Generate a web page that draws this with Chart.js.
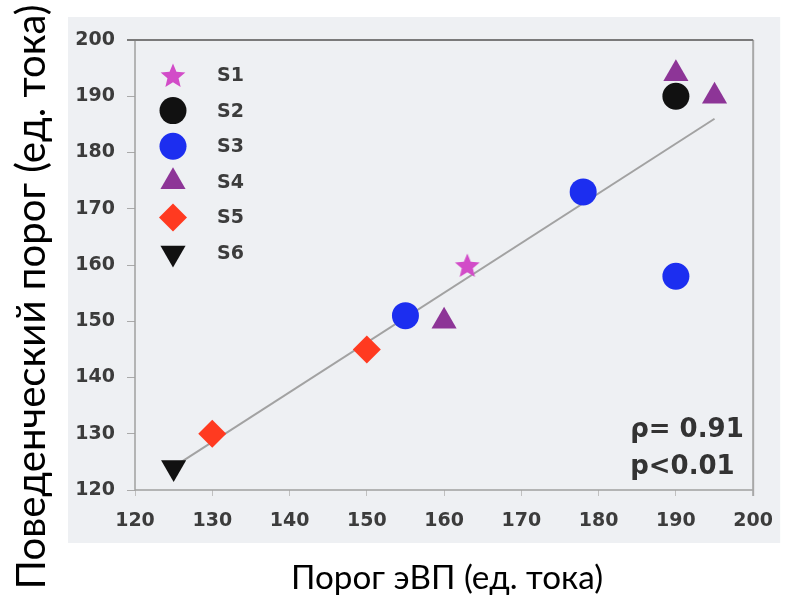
<!DOCTYPE html>
<html>
<head>
<meta charset="utf-8">
<script src="https://cdn.jsdelivr.net/npm/chart.js@4.4.1/dist/chart.umd.min.js"></script>
<style>
  html, body { margin: 0; padding: 0; background: #fff; }
</style>
</head>
<body>
<canvas id="chart" width="787" height="603"></canvas>
<script>
// series as [x, y]
const seriesNames = ["S1", "S2", "S3", "S4", "S5", "S6"];
const s1 = [[163, 160]];
const s2 = [[190, 190]];
const s3 = [[155, 151], [178, 173], [190, 158]];
const s4 = [[190, 194], [195, 190], [160, 150]];
const s5 = [[130, 130], [150, 145]];
const s6 = [[125, 124]];
const fitLine = [[126, 125], [195, 186]];

const axisMin = 120;
const axisMax = 200;
const axisStep = 10;

const statText = ["ρ= 0.91", "p<0.01"];
const xTitle = "Порог эВП (ед. тока)";
const yTitle = "Поведенческий порог (ед. тока)";

const tickFont = { family: "DejaVu Sans", weight: "bold", size: 19 };
const tickColor = "#3c3c3c";

function toPoints(arr) {
    return arr.map(p => ({ x: p[0], y: p[1] }));
}

// filled five point star, chart.js 'star' is only an asterisk
function makeStar(r, color) {
    const c = document.createElement("canvas");
    c.width = c.height = r * 2 + 2;
    const g = c.getContext("2d");
    g.fillStyle = color;
    g.beginPath();
    for (let i = 0; i < 10; i++) {
        const rr = i % 2 ? r * 0.45 : r;
        const a = -Math.PI / 2 + i * Math.PI / 5;
        g.lineTo(c.width / 2 + rr * Math.cos(a), c.height / 2 + 1.5 + rr * Math.sin(a));
    }
    g.closePath();
    g.fill();
    return c;
}

const styles = [
    { color: "#d24cc8", pointStyle: makeStar(13, "#d24cc8"), radius: 13, rotation: 0 },
    { color: "#111111", pointStyle: "circle", radius: 13.5, rotation: 0 },
    { color: "#1c2ef0", pointStyle: "circle", radius: 13.5, rotation: 0 },
    { color: "#8d3597", pointStyle: "triangle", radius: 14.5, rotation: 0 },
    { color: "#ff3a20", pointStyle: "rectRot", radius: 14, rotation: 0 },
    { color: "#111111", pointStyle: "triangle", radius: 14.5, rotation: 180 }
];

const seriesData = [s1, s2, s3, s4, s5, s6];

const datasets = seriesData.map((d, i) => ({
    type: "scatter",
    label: seriesNames[i],
    data: toPoints(d),
    backgroundColor: styles[i].color,
    borderColor: styles[i].color,
    borderWidth: 0,
    pointStyle: styles[i].pointStyle,
    pointRadius: styles[i].radius,
    pointHoverRadius: styles[i].radius,
    pointRotation: styles[i].rotation
}));

datasets.push({
    type: "line",
    label: "",
    data: toPoints(fitLine),
    borderColor: "#a2a2a2",
    borderWidth: 2,
    pointRadius: 0,
    fill: false
});

const panelPlugin = {
    id: "panel",
    beforeDraw(chart) {
        const ctx = chart.ctx;
        const a = chart.chartArea;
        ctx.save();
        ctx.fillStyle = "#ffffff";
        ctx.fillRect(0, 0, chart.width, chart.height);
        ctx.fillStyle = "#eef0f3";
        ctx.fillRect(a.left - 67, a.top - 23, a.right - a.left + 94, a.bottom - a.top + 76);
        ctx.restore();
    },
    beforeDatasetsDraw(chart) {
        const ctx = chart.ctx;
        const a = chart.chartArea;
        ctx.save();
        ctx.strokeStyle = "#a0a0a0";
        ctx.lineWidth = 1.5;
        ctx.beginPath();
        ctx.moveTo(a.left, a.top);
        ctx.lineTo(a.left, a.bottom);
        ctx.lineTo(a.right, a.bottom);
        ctx.stroke();
        ctx.lineWidth = 2;
        ctx.strokeStyle = "#a8a8a8";
        ctx.beginPath();
        ctx.moveTo(a.right, a.bottom + 6);
        ctx.lineTo(a.right, a.top);
        ctx.stroke();
        ctx.strokeStyle = "#7a7a7a";
        ctx.beginPath();
        ctx.moveTo(a.left - 8, a.top);
        ctx.lineTo(a.right, a.top);
        ctx.stroke();
        ctx.restore();
    },
    afterDraw(chart) {
        const ctx = chart.ctx;
        const a = chart.chartArea;
        const helpers = Chart.helpers;
        ctx.save();

        // legend in the top left corner of the plot
        chart.data.datasets.forEach((ds, i) => {
            if (!ds.label) return;
            const y = a.top + 35 + i * 35.6;
            ctx.fillStyle = ds.backgroundColor;
            helpers.drawPoint(ctx, {
                pointStyle: ds.pointStyle,
                radius: ds.pointRadius,
                rotation: ds.pointRotation,
                borderWidth: 0
            }, a.left + 38, y);
            ctx.fillStyle = tickColor;
            ctx.font = "bold 19px 'DejaVu Sans'";
            ctx.textAlign = "left";
            ctx.textBaseline = "middle";
            ctx.fillText(ds.label, a.left + 82, y + 1);
        });

        // correlation text
        ctx.fillStyle = "#333333";
        ctx.font = "bold 26px 'DejaVu Sans'";
        ctx.textAlign = "left";
        ctx.textBaseline = "middle";
        ctx.fillText(statText[0], a.right - 123, a.bottom - 60);
        ctx.fillText(statText[1], a.right - 123, a.bottom - 23);

        // axis titles
        ctx.fillStyle = "#000000";
        ctx.textAlign = "center";
        ctx.font = "36px Lato";
        let size = 36 * 312 / ctx.measureText(xTitle).width;
        ctx.font = size + "px Lato";
        ctx.fillText(xTitle, (a.left + a.right) / 2 + 3, a.bottom + 88);

        ctx.font = "36px Lato";
        size = 36 * 585 / ctx.measureText(yTitle).width;
        ctx.font = size + "px Lato";
        ctx.translate(32, a.top + 257);
        ctx.rotate(-Math.PI / 2);
        ctx.fillText(yTitle, 0, 0);
        ctx.restore();
    }
};

const chart = new Chart(document.getElementById("chart"), {
    type: "scatter",
    data: { datasets: datasets },
    options: {
        responsive: false,
        animation: false,
        devicePixelRatio: 1,
        layout: { padding: { left: 0, top: 40, right: 32, bottom: 0 } },
        plugins: {
            legend: { display: false },
            tooltip: { enabled: false }
        },
        scales: {
            x: {
                type: "linear",
                min: axisMin,
                max: axisMax,
                ticks: { stepSize: axisStep, font: tickFont, color: tickColor, padding: 14, maxRotation: 0 },
                grid: { display: true, drawOnChartArea: false, tickLength: 6, color: "#c0c0c0" },
                border: { display: false },
                afterFit(scale) { scale.height = 113; }
            },
            y: {
                type: "linear",
                min: axisMin,
                max: axisMax,
                ticks: { stepSize: axisStep, font: tickFont, color: tickColor, padding: 12 },
                grid: { display: true, drawOnChartArea: false, tickLength: 8, color: "#aaaaaa" },
                border: { display: false },
                afterFit(scale) { scale.width = 135; }
            }
        }
    },
    plugins: [panelPlugin]
});
</script>
</body>
</html>
